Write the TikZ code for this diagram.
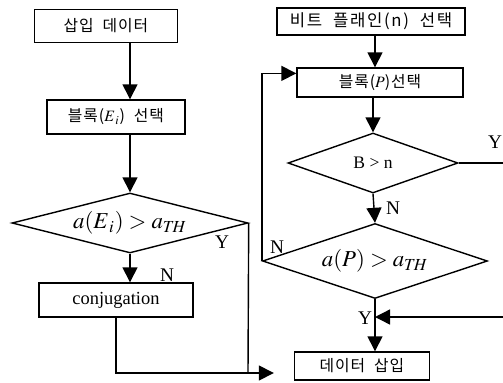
\documentclass[tikz,border=0pt]{standalone}
\usepackage{amsmath}
\usepackage{mathptmx}
\usepackage{fontspec}
\setmainfont{Liberation Serif}
\newfontfamily\kr[LetterSpace=6]{Noto Sans CJK KR}
\usepackage{tikz}
\usetikzlibrary{arrows.meta,shapes.geometric,calc}
\def\aTH{a_{T\!H}}

\begin{document}
\begin{tikzpicture}[x=0.02cm,y=-0.02cm,
    proc/.style={draw,thick,inner sep=0pt,font=\kr\fontsize{9}{10}\selectfont},
    cond/.style={draw,thick,diamond,inner sep=0pt},
    arr/.style={thick,-{Triangle[length=0.3cm,width=0.3cm]}},
    lbl/.style={font=\fontsize{11}{12}\selectfont,inner sep=0pt}]
  \useasboundingbox (0,0) rectangle (503,382);
  % left part
  \node[proc,minimum width=2.86cm,minimum height=0.66cm] (data) at (106,26) {삽입 \ 데이터};
  \node[proc,minimum width=2.76cm,minimum height=0.68cm] (blkE) at (116,117) {블록($E_{\,i}$) \ 선택};
  \node[cond,aspect=3.9,minimum width=4.72cm,minimum height=1.2cm] (cmpE) at (130,223) {\fontsize{13}{15}\selectfont$a(E_{\,i})>\aTH$};
  \node[proc,minimum width=3.08cm,minimum height=0.68cm,font=\fontsize{10.5}{12}\selectfont] (conj) at (116,300) {conjugation};
  \draw[arr] (data.south -| cmpE.north) -- (blkE.north -| cmpE.north);
  \draw[arr] (blkE.south -| cmpE.north) -- (cmpE.north);
  \draw[arr] (cmpE.south) -- (conj.north -| cmpE.south);
  \coordinate (jl) at (248,373);
  \draw[thick] (cmpE.east) -- (jl);
  \draw[thick] (conj.south) |- (jl);
  \node[lbl] (yE) at (222,242) {Y};
  \node[lbl] (nE) at (167,275) {N};
  % right part
  \node[proc,minimum width=3.76cm,minimum height=0.54cm,font=\kr\addfontfeature{LetterSpace=10}\fontsize{9.5}{11}\selectfont] (bpl) at (371,21.5) {비트 \ 플래인(n) \ 선택};
  \node[proc,minimum width=3.32cm,minimum height=0.58cm] (blkP) at (380,82.5) {블록($P$)선택};
  \node[cond,aspect=2.8,minimum width=3.4cm,minimum height=1.2cm,font=\fontsize{10}{12}\selectfont] (cmpB) at (373,163) {B > n};
  \node[cond,aspect=3,minimum width=4.5cm,minimum height=1.5cm] (cmpP) at (375,261) {\fontsize{13}{15}\selectfont$a(P)>\aTH$};
  \node[proc,minimum width=2.7cm,minimum height=0.56cm] (out) at (362,366) {데이터 \ 삽입};
  \draw[arr] (bpl.south -| cmpP.north) -- (blkP.north -| cmpP.north);
  \draw[arr] (blkP.south -| cmpB.north) -- (cmpB.north);
  \draw[arr] (cmpB.south) -- (cmpP.north);
  \draw[arr] (cmpP.west) |- ($(blkP.north west)!0.2!(blkP.south west)$);
  \draw[arr] (cmpP.south) -- (out.north -| cmpP.south);
  \coordinate (jr) at (cmpP.south |- 0,317);
  \draw[arr] (cmpB.east) -- ++(52,0) |- (jr);
  \draw[arr,shorten >=0.4cm] (jl) -- (jl -| out.west);
  \node[lbl] (yB) at (495,142) {Y};
  \node[lbl] (nB) at (393,208) {N};
  \node[lbl] (nP) at (277,247) {N};
  \node[lbl] (yP) at (365,318) {Y};
\end{tikzpicture}
\end{document}
